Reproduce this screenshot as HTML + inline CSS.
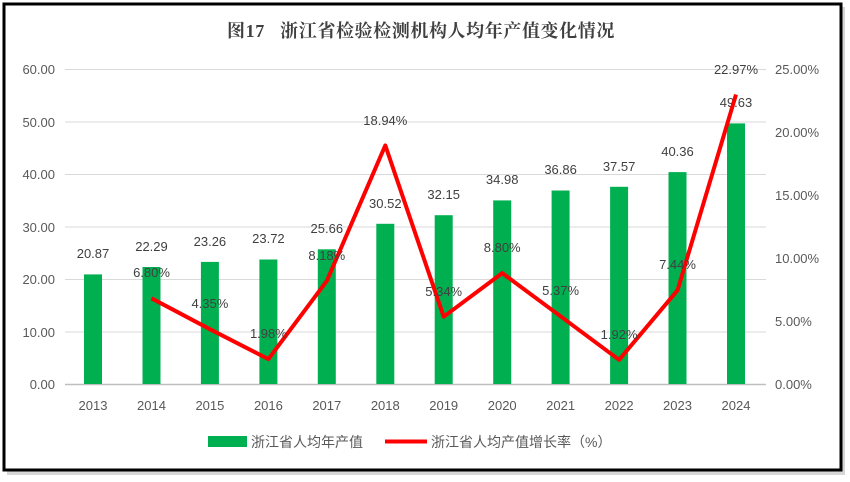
<!DOCTYPE html>
<html><head><meta charset="utf-8"><style>
body{margin:0;background:#fff;}
svg{display:block;font-family:"Liberation Sans","Noto Sans CJK SC",sans-serif;}
</style></head><body>
<svg width="850" height="482" xmlns="http://www.w3.org/2000/svg">
<rect x="7" y="7" width="838" height="468" fill="#bbb" opacity="0.6"/>
<rect x="4" y="4" width="837" height="466" fill="#fff" stroke="#000" stroke-width="3"/>
<text x="421" y="37" text-anchor="middle" font-size="18" font-weight="bold" fill="#404040" letter-spacing="0.6" xml:space="preserve" font-family="Liberation Serif,'Noto Serif CJK SC',serif">图17   浙江省检验检测机构人均年产值变化情况</text>
<g stroke="#d9d9d9" stroke-width="1">
<line x1="65" x2="766" y1="69.5" y2="69.5"/><line x1="65" x2="766" y1="122" y2="122"/><line x1="65" x2="766" y1="174.5" y2="174.5"/><line x1="65" x2="766" y1="227" y2="227"/><line x1="65" x2="766" y1="279.5" y2="279.5"/><line x1="65" x2="766" y1="332" y2="332"/>
</g>
<line x1="65" x2="766" y1="384.5" y2="384.5" stroke="#bfbfbf" stroke-width="1.5"/>
<g font-size="13" fill="#595959" text-anchor="end">
<text x="55" y="74">60.00</text><text x="55" y="127">50.00</text><text x="55" y="179">40.00</text><text x="55" y="232">30.00</text><text x="55" y="284">20.00</text><text x="55" y="337">10.00</text><text x="55" y="389">0.00</text>
</g>
<g font-size="13" fill="#595959" text-anchor="start">
<text x="775" y="74">25.00%</text><text x="775" y="137">20.00%</text><text x="775" y="200">15.00%</text><text x="775" y="263">10.00%</text><text x="775" y="326">5.00%</text><text x="775" y="389">0.00%</text>
</g>
<g fill="#00b050">
<rect x="84" y="274.4" width="18" height="109.6"/>
<rect x="142.5" y="267" width="18" height="117"/>
<rect x="200.9" y="261.9" width="18" height="122.1"/>
<rect x="259.4" y="259.5" width="18" height="124.5"/>
<rect x="317.8" y="249.3" width="18" height="134.7"/>
<rect x="376.3" y="223.8" width="18" height="160.2"/>
<rect x="434.7" y="215.2" width="18" height="168.8"/>
<rect x="493.2" y="200.4" width="18" height="183.6"/>
<rect x="551.6" y="190.5" width="18" height="193.5"/>
<rect x="610.1" y="186.8" width="18" height="197.2"/>
<rect x="668.5" y="172.1" width="18" height="211.9"/>
<rect x="727" y="123.4" width="18" height="260.6"/>
</g>
<g font-size="13" fill="#404040" text-anchor="middle">
<text x="93" y="258">20.87</text><text x="151.5" y="251">22.29</text><text x="209.9" y="246">23.26</text><text x="268.4" y="243">23.72</text><text x="326.8" y="233">25.66</text><text x="385.3" y="208">30.52</text><text x="443.7" y="199">32.15</text><text x="502.2" y="184">34.98</text><text x="560.6" y="174">36.86</text><text x="619.1" y="171">37.57</text><text x="677.5" y="156">40.36</text><text x="736" y="107">49.63</text>
</g>
<polyline fill="none" stroke="#ff0000" stroke-width="4" stroke-linejoin="round" points="151.5,298.3 209.9,329.2 268.4,359.1 326.8,280.9 385.3,145.4 443.7,316.7 502.2,273.1 560.6,316.3 619.1,359.8 677.5,290.3 736,94.6"/>
<g font-size="13" fill="#404040" text-anchor="middle">
<text x="151.5" y="277">6.80%</text><text x="209.9" y="308">4.35%</text><text x="268.4" y="338">1.98%</text><text x="326.8" y="260">8.18%</text><text x="385.3" y="125">18.94%</text><text x="443.7" y="296">5.34%</text><text x="502.2" y="252">8.80%</text><text x="560.6" y="295">5.37%</text><text x="619.1" y="339">1.92%</text><text x="677.5" y="269">7.44%</text><text x="736" y="74">22.97%</text>
</g>
<g font-size="13" fill="#595959" text-anchor="middle">
<text x="93" y="410">2013</text><text x="151.5" y="410">2014</text><text x="209.9" y="410">2015</text><text x="268.4" y="410">2016</text><text x="326.8" y="410">2017</text><text x="385.3" y="410">2018</text><text x="443.7" y="410">2019</text><text x="502.2" y="410">2020</text><text x="560.6" y="410">2021</text><text x="619.1" y="410">2022</text><text x="677.5" y="410">2023</text><text x="736" y="410">2024</text>
</g>
<rect x="208" y="436" width="39" height="11" fill="#00b050"/>
<text x="251" y="447" font-size="14" fill="#595959">浙江省人均年产值</text>
<line x1="385" x2="427" y1="441.5" y2="441.5" stroke="#ff0000" stroke-width="4"/>
<text x="431" y="447" font-size="14" fill="#595959">浙江省人均产值增长率（%）</text>
</svg>
</body></html>
